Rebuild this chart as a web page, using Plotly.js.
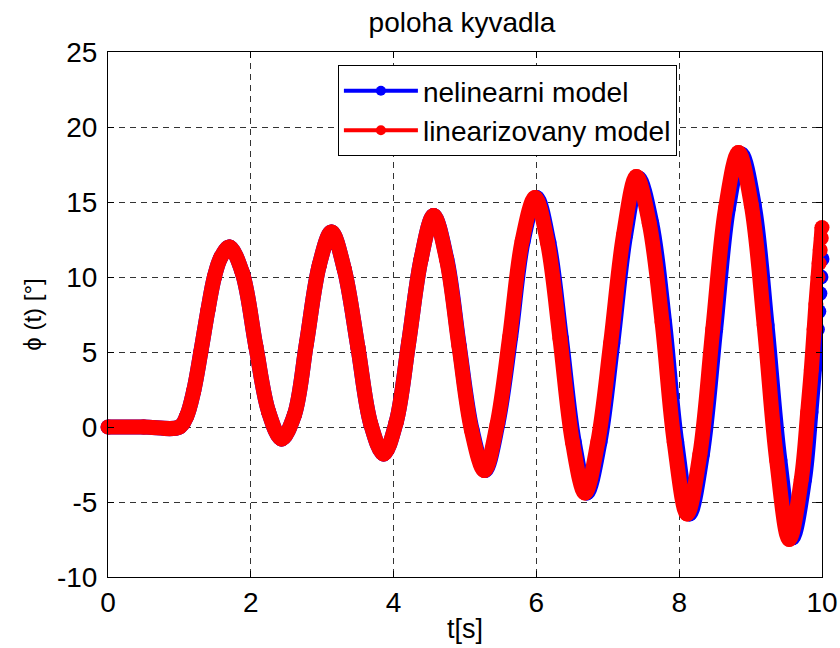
<!DOCTYPE html>
<html>
<head>
<meta charset="utf-8">
<script src="https://cdn.plot.ly/plotly-3.0.1.min.js"></script>
<style>html,body{margin:0;padding:0;background:#fff}#chart{width:840px;height:648px}</style>
</head>
<body>
<div id="chart"></div>
<script>
// linearizovany model (red)
const tLin = [0, 0.5, 1.0, 1.10, 1.20, 1.30, 1.40, 1.49, 1.58, 1.70, 1.88, 2.07, 2.25, 2.43, 2.61, 2.78, 2.96, 3.13, 3.31, 3.50, 3.68, 3.86, 4.035, 4.21, 4.385, 4.56, 4.74, 4.915, 5.09, 5.27, 5.45, 5.625, 5.80, 5.98, 6.155, 6.33, 6.505, 6.68, 6.86, 7.04, 7.22, 7.40, 7.58, 7.76, 7.93, 8.11, 8.29, 8.47, 8.65, 8.83, 9.01, 9.19, 9.365, 9.54, 9.71, 9.80, 9.85, 9.89, 9.915, 9.945, 9.96, 9.975, 9.99, 10.0];
const yLin = [0, 0, 0, 0.7, 2.4, 5, 7.8, 10, 11.3, 12.0, 10.3, 5.4, 1.0, -0.8, 0.8, 5.6, 10.8, 13.0, 10.5, 5.3, 0.2, -1.8, 0.3, 5.6, 11.2, 14.1, 11.2, 5.4, -0.2, -2.9, 0.2, 6.0, 12.4, 15.3, 12.3, 5.9, -1.0, -4.4, -1.0, 5.6, 12.8, 16.7, 13.6, 7.0, -1.0, -5.8, -1.8, 6.5, 14.6, 18.3, 14.8, 6.8, -2.2, -7.5, -3.5, 1.0, 3.8, 6.5, 8.2, 10.0, 10.9, 11.8, 12.6, 13.3];
// nelinearni model (blue)
const tNon = [0, 0.5, 1.0, 1.10, 1.20, 1.30, 1.40, 1.49, 1.58, 1.70, 1.88, 2.07, 2.25, 2.43, 2.61, 2.78, 2.96, 3.13, 3.31, 3.50, 3.68, 3.86, 4.035, 4.21, 4.385, 4.56, 4.745, 4.92, 5.10, 5.28, 5.46, 5.64, 5.815, 6.00, 6.175, 6.35, 6.53, 6.705, 6.89, 7.07, 7.25, 7.43, 7.615, 7.795, 7.965, 8.145, 8.325, 8.51, 8.69, 8.87, 9.05, 9.23, 9.41, 9.585, 9.755, 9.845, 9.895, 9.935, 9.955, 9.97, 9.985, 10.0];
const yNon = [0, 0, 0, 0.7, 2.4, 5, 7.8, 10, 11.3, 12.0, 10.3, 5.4, 1.0, -0.8, 0.8, 5.6, 10.8, 13.0, 10.5, 5.3, 0.2, -1.8, 0.3, 5.6, 11.2, 14.1, 11.2, 5.4, -0.2, -2.9, 0.2, 6.0, 12.4, 15.3, 12.3, 5.9, -1.0, -4.4, -1.0, 5.6, 12.8, 16.6, 13.6, 7.0, -1.0, -5.8, -1.8, 6.5, 14.6, 18.2, 14.8, 6.8, -2.2, -7.4, -3.5, 1.0, 3.9, 6.5, 7.7, 8.9, 10.0, 11.2];

const names = ["nelinearni model", "linearizovany model"];
const xTicks = [0, 2, 4, 6, 8, 10];
const yTicks = [-10, -5, 0, 5, 10, 15, 20, 25];

const FONT = "Liberation Sans, Arial, Helvetica, sans-serif";

function thick(x, y, color) {
  return {x: x, y: y, type: "scatter", mode: "lines+markers",
    line: {color: color, width: 15, shape: "spline", smoothing: 1},
    marker: {color: color, size: 15},
    showlegend: false, hoverinfo: "skip", cliponaxis: false};
}
function legendItem(name, color) {
  return {x: [null], y: [null], type: "scatter", mode: "lines+markers", name: name,
    line: {color: color, width: 4}, marker: {color: color, size: 10}};
}

const data = [
  thick(tNon, yNon, "#0000ff"),
  thick(tLin, yLin, "#ff0000"),
  legendItem(names[0], "#0000ff"),
  legendItem(names[1], "#ff0000")
];

const axisCommon = {
  showline: true, linecolor: "#000", linewidth: 1, mirror: "ticks",
  ticks: "inside", ticklen: 6, tickcolor: "#000", tickwidth: 1,
  showgrid: true, gridcolor: "#333", gridwidth: 1, griddash: "6px,5px",
  zeroline: false, tickfont: {family: FONT, size: 28, color: "#000"}
};

const layout = {
  width: 840, height: 648,
  margin: {l: 108, r: 18, t: 52, b: 71},
  paper_bgcolor: "#fff", plot_bgcolor: "#fff",
  font: {family: FONT, color: "#000"},
  title: {text: "poloha kyvadla", font: {family: FONT, size: 28, color: "#000"}, x: 0.55, xanchor: "center", y: 0.965, yanchor: "middle"},
  xaxis: Object.assign({}, axisCommon, {range: [0, 10], tickvals: xTicks, ticktext: xTicks.map(String),
    title: {text: "t[s]", font: {family: FONT, size: 27, color: "#000"}, standoff: 2}}),
  yaxis: Object.assign({}, axisCommon, {range: [-10, 25], tickvals: yTicks, ticktext: yTicks.map(String),
    ticklabelstandoff: 4,
    title: {text: "ϕ (t) [°]", font: {family: FONT, size: 24, color: "#000"}, standoff: 8}}),
  legend: {x: 0.322, y: 0.975, xanchor: "left", yanchor: "top", bgcolor: "#fff",
    bordercolor: "#000", borderwidth: 1, font: {family: FONT, size: 28, color: "#000"},
    itemwidth: 74, tracegroupgap: 0}
};

Plotly.newPlot("chart", data, layout, {displayModeBar: false, staticPlot: true});
</script>
</body>
</html>
